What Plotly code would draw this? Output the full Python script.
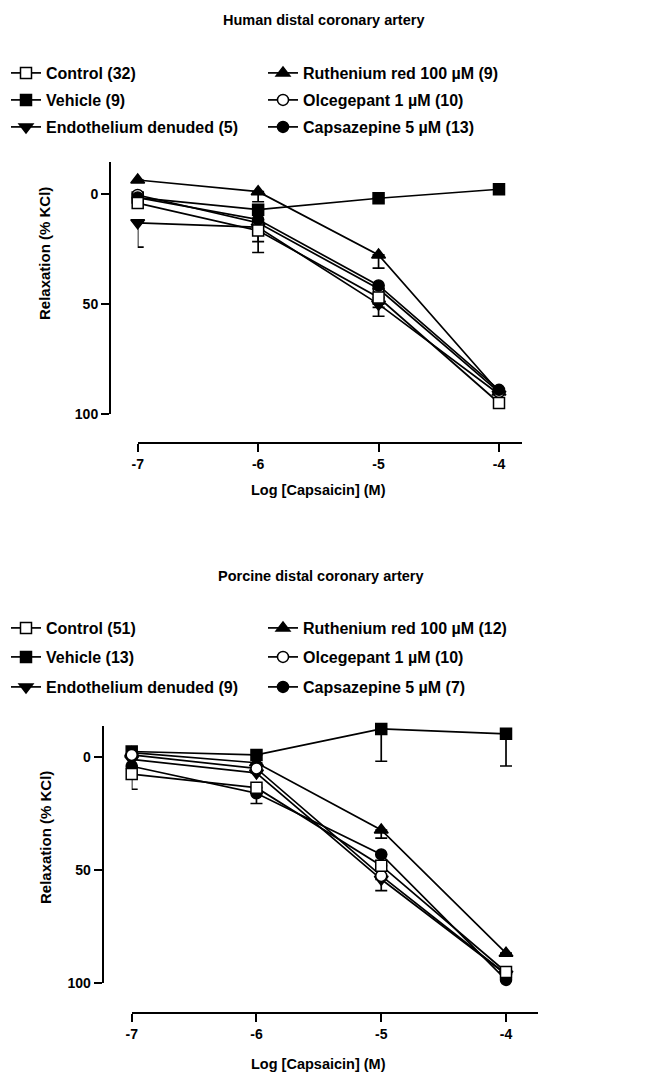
import plotly.graph_objects as go

# ---------------- data ----------------
log_conc = [-7, -6, -5, -4]
x_tick_vals = [-7, -6, -5, -4]
x_tick_text = ["-7", "-6", "-5", "-4"]
y_tick_vals = [0, 50, 100]
y_tick_text = ["0", "50", "100"]

# Human distal coronary artery
human_labels = {
    "control": "Control (32)",
    "vehicle": "Vehicle (9)",
    "endothelium": "Endothelium denuded (5)",
    "ruthenium": "Ruthenium red 100 µM (9)",
    "olcegepant": "Olcegepant 1 µM (10)",
    "capsazepine": "Capsazepine 5 µM (13)",
}
human_control = [4.0, 16.5, 47.0, 95.0]
human_control_err = [0, 5.0, 4.5, 0]
human_vehicle = [1.5, 7.0, 1.8, -2.3]
human_vehicle_err = [0, 0, 0, 0]
human_endothelium = [13.0, 15.0, 50.0, 91.0]
human_endothelium_err = [11.0, 11.5, 5.5, 0]
human_ruthenium = [-6.5, -1.2, 27.6, 90.0]
human_ruthenium_err = [0, 4.6, 6.0, 0]
human_olcegepant = [0.3, 13.0, 43.0, 90.0]
human_olcegepant_err = [0, 0, 0, 0]
human_capsazepine = [1.5, 11.5, 41.5, 89.0]
human_capsazepine_err = [0, 0, 0, 0]

# Porcine distal coronary artery
porcine_labels = {
    "control": "Control (51)",
    "vehicle": "Vehicle (13)",
    "endothelium": "Endothelium denuded (9)",
    "ruthenium": "Ruthenium red 100 µM (12)",
    "olcegepant": "Olcegepant 1 µM (10)",
    "capsazepine": "Capsazepine 5 µM (7)",
}
porcine_control = [7.5, 13.5, 48.0, 95.0]
porcine_control_err = [6.7, 0, 0, 0]
porcine_vehicle = [-2.5, -1.0, -12.5, -10.3]
porcine_vehicle_err = [0, 0, 14.3, 14.2]
porcine_endothelium = [1.0, 7.0, 54.0, 96.0]
porcine_endothelium_err = [0, 0, 5.0, 0]
porcine_ruthenium = [-2.0, 2.5, 32.2, 86.7]
porcine_ruthenium_err = [0, 0, 3.6, 0]
porcine_olcegepant = [-1.0, 5.0, 52.5, 96.0]
porcine_olcegepant_err = [0, 0, 0, 0]
porcine_capsazepine = [4.0, 16.0, 43.0, 98.5]
porcine_capsazepine_err = [0, 4.5, 0, 0]

human = {
    "control": (human_control, human_control_err),
    "vehicle": (human_vehicle, human_vehicle_err),
    "endothelium": (human_endothelium, human_endothelium_err),
    "ruthenium": (human_ruthenium, human_ruthenium_err),
    "olcegepant": (human_olcegepant, human_olcegepant_err),
    "capsazepine": (human_capsazepine, human_capsazepine_err),
}
porcine = {
    "control": (porcine_control, porcine_control_err),
    "vehicle": (porcine_vehicle, porcine_vehicle_err),
    "endothelium": (porcine_endothelium, porcine_endothelium_err),
    "ruthenium": (porcine_ruthenium, porcine_ruthenium_err),
    "olcegepant": (porcine_olcegepant, porcine_olcegepant_err),
    "capsazepine": (porcine_capsazepine, porcine_capsazepine_err),
}

# ---------------- styles ----------------
PAGE_W, PAGE_H = 646, 1080
BODY = 8  # default page margin around the plot div
W, H = PAGE_W - BODY, PAGE_H - BODY
FONT = "Liberation Sans, Arial, sans-serif"
marker_style = {
    "control": dict(symbol="square", color="white", size=11),
    "vehicle": dict(symbol="square", color="black", size=11),
    "endothelium": dict(symbol="triangle-down", color="black", size=12),
    "ruthenium": dict(symbol="triangle-up", color="black", size=12),
    "olcegepant": dict(symbol="circle", color="white", size=11),
    "capsazepine": dict(symbol="circle", color="black", size=11),
}
legend_rank = {"control": 1, "ruthenium": 2, "vehicle": 3, "olcegepant": 4, "endothelium": 5, "capsazepine": 6}
legend_row = {"control": 0, "ruthenium": 0, "vehicle": 1, "olcegepant": 1, "endothelium": 2, "capsazepine": 2}
draw_order = ["vehicle", "endothelium", "ruthenium", "olcegepant", "capsazepine", "control"]


def px_x(p):
    return (p - BODY) / W


def px_y(p):
    return 1 - (p - BODY) / H


fig = go.Figure()

panels = [
    dict(data=human, labels=human_labels, xa="x", ya="y", legends=["legend", "legend2", "legend3"]),
    dict(data=porcine, labels=porcine_labels, xa="x2", ya="y2", legends=["legend4", "legend5", "legend6"]),
]

for pn in panels:
    for key in draw_order:
        vals, errs = pn["data"][key]
        ms = marker_style[key]
        fig.add_trace(go.Scatter(
            x=log_conc, y=vals, mode="lines+markers",
            name=pn["labels"][key],
            line=dict(color="black", width=1.7),
            marker=dict(symbol=ms["symbol"], size=ms["size"], color=ms["color"],
                        line=dict(color="black", width=1.5)),
            error_y=dict(type="data", symmetric=False, array=errs,
                         arrayminus=[0] * len(errs), color="black",
                         thickness=1.7, width=6),
            xaxis=pn["xa"], yaxis=pn["ya"],
            legend=pn["legends"][legend_row[key]],
            legendrank=legend_rank[key],
            cliponaxis=False,
        ))

axis_common = dict(
    showline=True, linecolor="black", linewidth=2,
    ticks="outside", tickcolor="black", tickwidth=2, ticklen=8,
    showgrid=False, zeroline=False,
    tickfont=dict(family=FONT, size=14, color="black", weight="bold"),
)

fig.update_layout(
    xaxis=dict(domain=[px_x(137.7), px_x(522)], range=[-7, -3.809],
               anchor="free", position=px_y(442.7),
               tickvals=x_tick_vals, ticktext=x_tick_text, **axis_common),
    yaxis=dict(domain=[px_y(414), px_y(162)], range=[100, -14.7],
               anchor="free", position=px_x(110),
               tickvals=y_tick_vals, ticktext=y_tick_text, **axis_common),
    xaxis2=dict(domain=[px_x(131.7), px_x(537.7)], range=[-7, -3.746],
                anchor="free", position=px_y(1012.7),
                tickvals=x_tick_vals, ticktext=x_tick_text, **axis_common),
    yaxis2=dict(domain=[px_y(983.3), px_y(725.5)], range=[100, -14.0],
                anchor="free", position=px_x(102.7),
                tickvals=y_tick_vals, ticktext=y_tick_text, **axis_common),
)

legend_font = dict(family=FONT, size=16, color="black", weight="bold")
legend_rows_y = [73, 100, 127, 628, 657, 687]
legend_ids = ["legend", "legend2", "legend3", "legend4", "legend5", "legend6"]
for lid, yy in zip(legend_ids, legend_rows_y):
    fig.update_layout({lid: dict(
        orientation="h", x=0, xanchor="left", y=px_y(yy), yanchor="middle",
        entrywidth=214, entrywidthmode="pixels", indentation=-2, font=legend_font,
        bgcolor="rgba(0,0,0,0)", borderwidth=0, itemclick=False,
    )})

annotations = [
    dict(text="<b>Human distal coronary artery</b>", x=px_x(323), y=px_y(20), size=14.5, angle=0),
    dict(text="<b>Porcine distal coronary artery</b>", x=px_x(321), y=px_y(576), size=14.5, angle=0),
    dict(text="<b>Relaxation (% KCl)</b>", x=px_x(45), y=px_y(254), size=15, angle=-90),
    dict(text="<b>Relaxation (% KCl)</b>", x=px_x(45), y=px_y(838), size=15, angle=-90),
    dict(text="<b>Log [Capsaicin] (M)</b>", x=px_x(318), y=px_y(490), size=14.5, angle=0),
    dict(text="<b>Log [Capsaicin] (M)</b>", x=px_x(318), y=px_y(1064), size=14.5, angle=0),
]
fig.update_layout(annotations=[
    dict(text=a["text"], x=a["x"], y=a["y"], xref="paper", yref="paper",
         xanchor="center", yanchor="middle", showarrow=False, textangle=a["angle"],
         font=dict(family=FONT, size=a["size"], color="black"))
    for a in annotations
])

fig.update_layout(
    width=W, height=H,
    margin=dict(l=0, r=0, t=0, b=0, autoexpand=False),
    paper_bgcolor="white", plot_bgcolor="white",
    showlegend=True,
)

fig.write_html("out.html")
